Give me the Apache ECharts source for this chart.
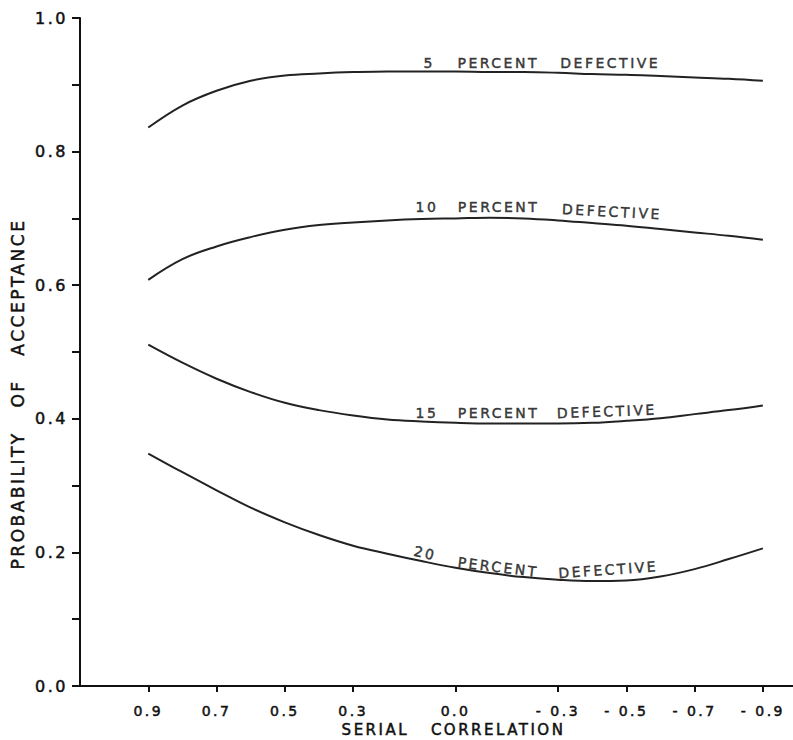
<!DOCTYPE html>
<html>
<head>
<meta charset="utf-8">
<title>Probability of acceptance vs serial correlation</title>
<script src="https://cdn.jsdelivr.net/npm/echarts@6.0.0/dist/echarts.min.js"></script>
<style>
  html, body { margin: 0; padding: 0; background: #fff; }
  #chart { width: 793px; height: 740px; }
  /* the original uses wide technical lettering */
  #chart text { letter-spacing: 2.5px; }
</style>
</head>
<body>
<div id="chart"></div>
<script>
// serial correlation (x)
const correlation = [0.9, 0.8, 0.7, 0.6, 0.5, 0.4, 0.3, 0.2, 0.1, 0.0,
  -0.1, -0.2, -0.3, -0.4, -0.5, -0.6, -0.7, -0.8, -0.9];

// probability of acceptance for each percent defective
const pct5 = [0.836, 0.869, 0.891, 0.906, 0.914, 0.917, 0.919, 0.920, 0.920, 0.920,
  0.919, 0.919, 0.918, 0.916, 0.915, 0.913, 0.911, 0.909, 0.906];
const pct10 = [0.608, 0.639, 0.658, 0.672, 0.683, 0.690, 0.694, 0.697, 0.699, 0.700,
  0.701, 0.700, 0.697, 0.693, 0.689, 0.684, 0.679, 0.674, 0.668];
const pct15 = [0.511, 0.484, 0.460, 0.440, 0.424, 0.413, 0.405, 0.399, 0.396, 0.394,
  0.393, 0.393, 0.393, 0.394, 0.397, 0.401, 0.407, 0.413, 0.420];
const pct20 = [0.348, 0.320, 0.293, 0.267, 0.245, 0.226, 0.210, 0.198, 0.187, 0.177,
  0.169, 0.163, 0.159, 0.157, 0.158, 0.164, 0.175, 0.190, 0.206];

const xTicks = [0.9, 0.7, 0.5, 0.3, 0.0, -0.3, -0.5, -0.7, -0.9];

// curve annotations: text, correlation, probability, rotation
const curveLabels = [
  ['5', 0.077, 0.933, 0], ['PERCENT', -0.125, 0.933, 0], ['DEFECTIVE', -0.453, 0.933, 0],
  ['10', 0.084, 0.7175, 0], ['PERCENT', -0.126, 0.7175, 0], ['DEFECTIVE', -0.458, 0.710, -3],
  ['15', 0.084, 0.408, 0], ['PERCENT', -0.126, 0.409, 0], ['DEFECTIVE', -0.443, 0.411, 2],
  ['20', 0.089, 0.199, -13], ['PERCENT', -0.125, 0.178, -7], ['DEFECTIVE', -0.447, 0.174, 4]
];

const FONT = 'DejaVu Sans';
const INK = '#111';
// a thin outline makes the lettering a little heavier, like the pen strokes
const heavy = { textBorderColor: INK, textBorderWidth: 0.5 };

function curve(name, values) {
  return {
    name: name,
    type: 'line',
    smooth: 0.4,
    symbol: 'none',
    lineStyle: { color: '#222', width: 2 },
    data: correlation.map((c, i) => [c, values[i]])
  };
}

const chart = echarts.init(document.getElementById('chart'), null, { renderer: 'svg' });

chart.setOption({
  animation: false,
  backgroundColor: '#fff',
  grid: { left: 80, top: 18, width: 717, height: 668, outerBoundsMode: 'none' },
  xAxis: {
    type: 'value',
    inverse: true,
    min: -1.0,
    max: 1.1,
    name: 'SERIAL   CORRELATION',
    nameLocation: 'middle',
    nameGap: 36,
    nameMoveOverlap: false,
    nameTextStyle: Object.assign({ fontFamily: FONT, fontSize: 15, color: INK, padding: [0, 0, 0, 30] }, heavy),
    axisLine: { show: true, lineStyle: { color: '#111', width: 2 } },
    axisTick: { show: true, length: 6, customValues: xTicks, lineStyle: { color: '#111', width: 2 } },
    axisLabel: Object.assign({
      customValues: xTicks,
      margin: 18,
      fontFamily: FONT, fontSize: 14, color: INK,
      formatter: v => v < 0 ? '- ' + Math.abs(v).toFixed(1) : v.toFixed(1)
    }, heavy),
    splitLine: { show: false }
  },
  yAxis: {
    type: 'value',
    min: 0,
    max: 1,
    interval: 0.2,
    name: 'PROBABILITY   OF   ACCEPTANCE',
    nameLocation: 'middle',
    nameGap: 54,
    nameMoveOverlap: false,
    nameTextStyle: Object.assign({ fontFamily: FONT, fontSize: 17, color: INK, padding: [0, 84, 0, 0] }, heavy),
    axisLine: { show: true, onZero: false, lineStyle: { color: '#111', width: 2 } },
    axisTick: { show: true, length: 8, lineStyle: { color: '#111', width: 2 } },
    minorTick: { show: true, splitNumber: 2, length: 8, lineStyle: { color: '#111', width: 2 } },
    axisLabel: Object.assign({
      margin: 12,
      fontFamily: FONT, fontSize: 16, color: INK,
      formatter: v => v.toFixed(1)
    }, heavy),
    splitLine: { show: false }
  },
  series: [
    curve('5 percent defective', pct5),
    curve('10 percent defective', pct10),
    curve('15 percent defective', pct15),
    curve('20 percent defective', pct20),
    {
      type: 'scatter',
      symbolSize: 0,
      silent: true,
      itemStyle: { color: 'transparent' },
      label: Object.assign({ show: true, position: 'inside', fontFamily: FONT, fontSize: 14, color: INK }, heavy),
      data: curveLabels.map(l => ({
        value: [l[1], l[2]],
        label: { formatter: l[0], rotate: l[3] }
      }))
    }
  ]
});
</script>
</body>
</html>
